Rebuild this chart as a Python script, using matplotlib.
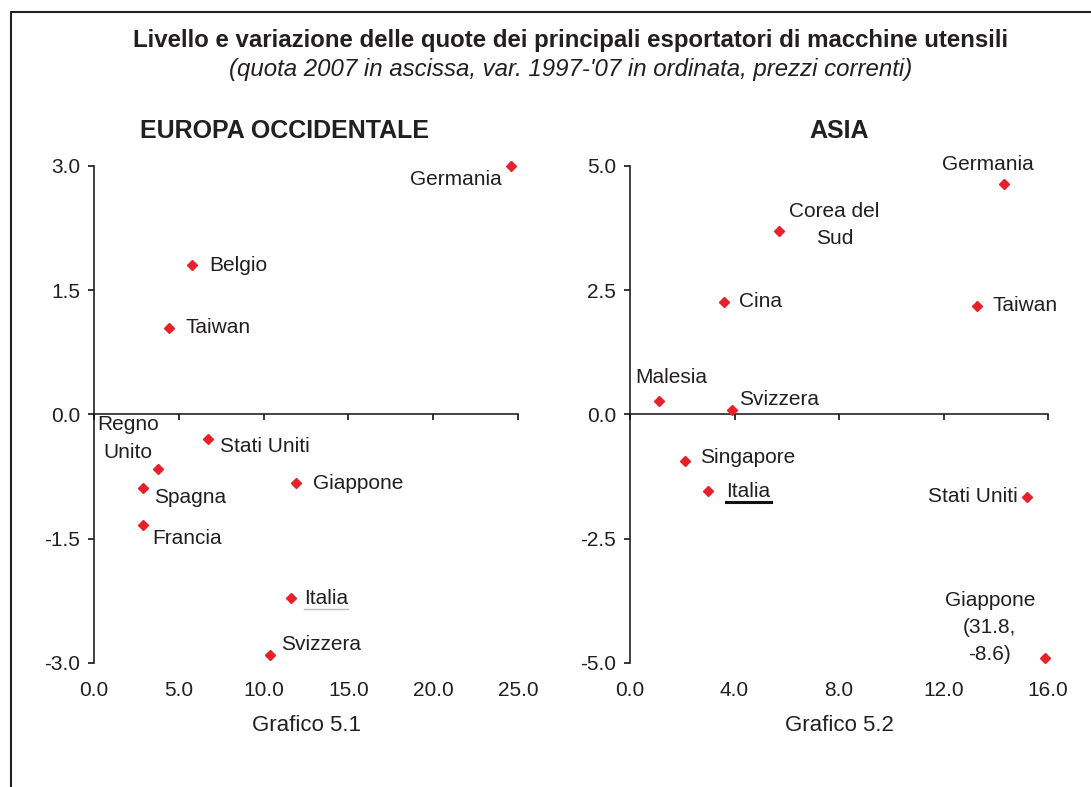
import matplotlib
matplotlib.use("Agg")
import matplotlib.pyplot as plt
from matplotlib.lines import Line2D
import numpy as np

plt.rcParams["font.family"] = ["Liberation Sans", "DejaVu Sans"]
plt.rcParams["axes.unicode_minus"] = False

# -----------------------------------------
# Dati: quota 2007 (x) e variazione 1997-'07 (y)
# -----------------------------------------
paesi_europa = ["Germania", "Belgio", "Taiwan", "Stati Uniti", "Regno\nUnito",
                "Spagna", "Francia", "Giappone", "Italia", "Svizzera"]
quota_europa = [24.6, 5.8, 4.4, 6.7, 3.8, 2.9, 2.9, 11.9, 11.6, 10.4]
var_europa = [3.0, 1.8, 1.05, -0.3, -0.66, -0.89, -1.34, -0.83, -2.22, -2.99]

paesi_asia = ["Germania", "Corea del\nSud", "Cina", "Taiwan", "Malesia",
              "Svizzera", "Singapore", "Italia", "Stati Uniti",
              "Giappone\n(31.8,\n-8.6)"]
quota_asia = [14.3, 5.7, 3.6, 13.3, 1.1, 3.9, 2.1, 3.0, 15.2, 31.8]
var_asia = [4.64, 3.7, 2.27, 2.19, 0.28, 0.08, -0.93, -1.54, -1.67, -8.6]

tick_x_europa = [0, 5, 10, 15, 20, 25]
tick_y_europa = [3.0, 1.5, 0.0, -1.5, -3.0]
tick_x_asia = [0, 4, 8, 12, 16]
tick_y_asia = [5.0, 2.5, 0.0, -2.5, -5.0]

# posizione etichette: (dx, dy) in punti, allineamento orizzontale
pos_europa = [(-6.5, -10, "right"), (12, 0, "left"), (12, 0, "left"),
              (9, -5, "left"), (-22, 22, "center"), (8, -7, "left"),
              (6.5, -9.5, "left"), (12, 0, "left"), (9.5, 0, "left"),
              (8, 7, "left")]
pos_asia = [(-11, 14, "center"), (40, 4, "center"), (11, 0, "left"),
            (11, 0, "left"), (9, 16.5, "center"), (5, 8, "left"),
            (11, 2, "left"), (13, 0, "left"), (-6.5, 0.5, "right"),
            (-40, 22, "center")]

COL_TESTO = "#231f20"
COL_PUNTI = "#e8202a"

fig = plt.figure(figsize=(10.91, 7.87), dpi=100)


def pannello(rect, titolo, x_titolo, nota, paesi, qx, qy, tx, ty, pos):
    ax = fig.add_axes(rect)
    ax.set_xlim(tx[0], tx[-1])
    ax.set_ylim(ty[-1], ty[0])
    x = np.clip(qx, tx[0], tx[-1] - 0.1)
    y = np.clip(qy, ty[-1] + 0.1, ty[0])
    ax.plot(x, y, linestyle="none", marker="D", markersize=4.8,
            color=COL_PUNTI, clip_on=False, zorder=3)

    for s in ["top", "right"]:
        ax.spines[s].set_visible(False)
    ax.spines["bottom"].set_position(("data", 0))
    for s in ["left", "bottom"]:
        ax.spines[s].set_linewidth(1.1)
        ax.spines[s].set_color("#111111")

    ax.set_xticks(tx)
    ax.tick_params(axis="x", direction="out", length=4, width=1.1,
                   labelbottom=False)
    ax.set_yticks(ty)
    ax.set_yticklabels(["%.1f" % v for v in ty])
    ax.tick_params(axis="y", direction="out", length=4, width=1.1, pad=6,
                   labelsize=15, labelcolor=COL_TESTO)

    # etichette dell'asse x in fondo al grafico
    sec = ax.secondary_xaxis(0)
    sec.set_xticks(tx)
    sec.set_xticklabels(["%.1f" % v for v in tx])
    sec.tick_params(length=0, pad=13, labelsize=15, labelcolor=COL_TESTO)
    sec.spines["bottom"].set_visible(False)

    ax.text(x_titolo, 1.07, titolo, transform=ax.transAxes, ha="center",
            va="center", fontsize=18, fontweight="bold", color=COL_TESTO)
    ax.text(0.5, -0.125, nota, transform=ax.transAxes, ha="center",
            va="center", fontsize=16, color=COL_TESTO)

    testi = {}
    for nome, xi, yi, (dx, dy, ha) in zip(paesi, x, y, pos):
        t = ax.annotate(nome, (xi, yi), xytext=(dx, dy),
                        textcoords="offset points", ha=ha, va="center",
                        fontsize=15, color=COL_TESTO, linespacing=1.55,
                        annotation_clip=False, multialignment="center")
        testi[nome] = t
    return ax, testi


ax1, testi1 = pannello([0.0862, 0.1576, 0.3886, 0.6315], "EUROPA OCCIDENTALE",
                       0.45, "Grafico 5.1", paesi_europa, quota_europa,
                       var_europa, tick_x_europa, tick_y_europa, pos_europa)
ax2, testi2 = pannello([0.5775, 0.1576, 0.3831, 0.6315], "ASIA", 0.5,
                       "Grafico 5.2", paesi_asia, quota_asia, var_asia,
                       tick_x_asia, tick_y_asia, pos_asia)

fig.text(0.523, 0.948, "Livello e variazione delle quote dei principali "
         "esportatori di macchine utensili", ha="center", va="center",
         fontsize=17.3, fontweight="bold", color=COL_TESTO)
fig.text(0.523, 0.912, "(quota 2007 in ascissa, var. 1997-'07 in ordinata, "
         "prezzi correnti)", ha="center", va="center", fontsize=17.3,
         style="italic", color=COL_TESTO)

# cornice (solo lato sinistro e superiore)
W, H = fig.get_size_inches() * fig.dpi
fig.add_artist(Line2D([10.5 / W, 10.5 / W, 1.0], [0.0, 1 - 12 / H, 1 - 12 / H],
                      transform=fig.transFigure, color="#222222", lw=1.5))

# sottolineatura di "Italia" nei due pannelli
fig.canvas.draw()
rend = fig.canvas.get_renderer()
for t, colore, spess in [(testi1["Italia"], "#bbbbbb", 1.0),
                         (testi2["Italia"], "#111111", 2.2)]:
    bb = t.get_window_extent(rend)
    yl = bb.y0 - 1
    fig.add_artist(Line2D([bb.x0 / W, bb.x1 / W], [yl / H, yl / H],
                          transform=fig.transFigure, color=colore, lw=spess))

fig.savefig("out.png", dpi=100)
